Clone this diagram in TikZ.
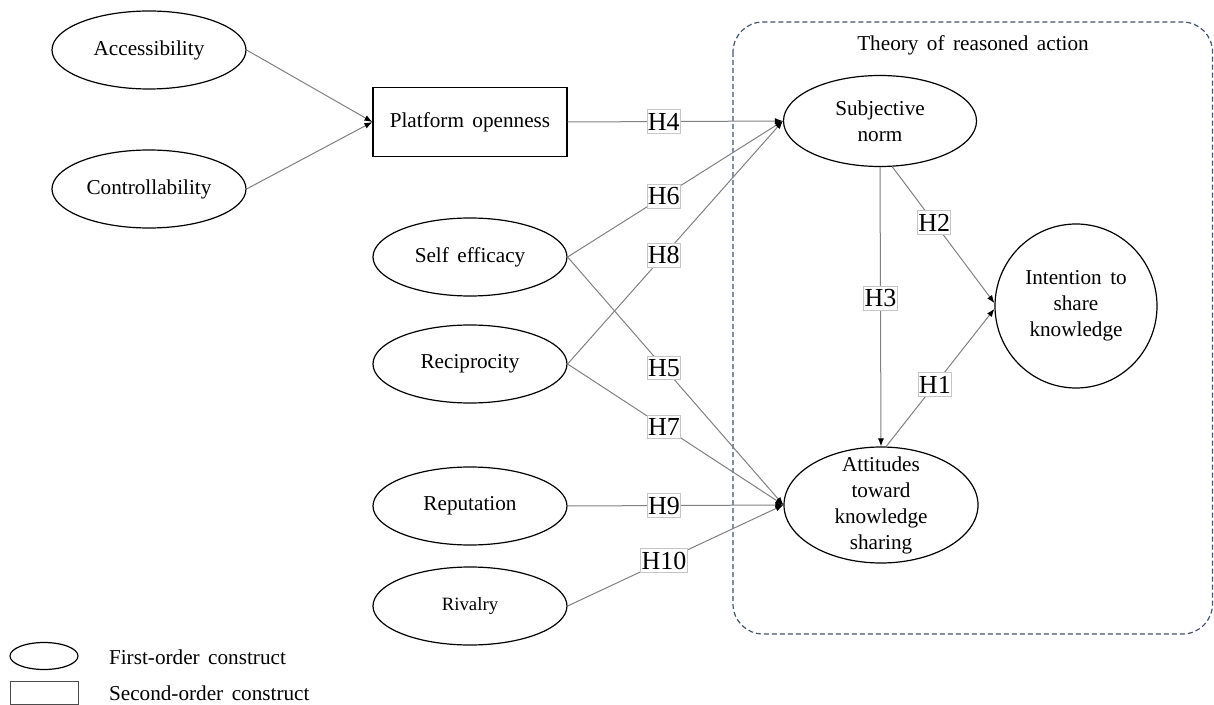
\documentclass[tikz,border=0pt]{standalone}
\usepackage{fontspec}
\setmainfont{Liberation Serif}[WordSpace=1.6]
\usepackage{xcolor}
\usetikzlibrary{arrows.meta,shapes.geometric,positioning}

\definecolor{traframe}{RGB}{68,84,106}

\begin{document}
\begin{tikzpicture}[x=0.5pt,y=-0.5pt,
	construct/.style={ellipse,draw,line width=0.6pt,fill=white,inner sep=0pt,
		minimum width=97pt,minimum height=39pt,align=center,
		font=\fontsize{10.6}{13}\selectfont},
	second/.style={rectangle,draw,line width=0.6pt,fill=white,
		minimum width=97pt,minimum height=34.5pt,font=\fontsize{10.6}{13}\selectfont},
	link/.style={draw=gray,line width=0.5pt,-{Latex[length=4pt,width=3pt,color=black]}},
	hyp/.style={pos=.447,draw=gray!45,line width=0.4pt,fill=white,inner xsep=0.4pt,inner ysep=1.6pt,
		text=black,font=\fontsize{13}{13}\selectfont}]
		\useasboundingbox (0,0) rectangle (1214,705);
		
		% theory of reasoned action frame
		\draw[traframe,line width=0.6pt,dash pattern=on 2.5pt off 1.5pt,rounded corners=15pt]
			(733,22) rectangle (1212.5,634);
		\node[font=\fontsize{10.6}{13}\selectfont] (tratitle) at (973,45) {Theory of reasoned action};
		
		% first and second order constructs
		\node[construct] (acc) at (149,50) {Accessibility};
		\node[construct] (ctrl) at (149,189) {Controllability};
		\node[second] (plat) at (470,122) {Platform openness};
		\node[construct] (self) at (470,257) {Self efficacy};
		\node[construct] (recip) at (470,364) {Reciprocity};
		\node[construct] (rep) at (470,506) {Reputation};
		\node[construct,font=\fontsize{9.4}{11}\selectfont] (riv) at (470,606) {Rivalry};
		
		\node[construct,minimum width=96.5pt,minimum height=45.5pt] (subj) at (880,121) {Subjective\\norm};
		\node[construct,minimum width=97pt,minimum height=58pt,inner ysep=-6pt] (att) at (881,505) {Attitudes\\toward\\knowledge\\sharing};
		\node[construct,minimum width=81pt,minimum height=82pt] (intent) at (1076,306) {Intention to\\share\\knowledge};
		
		% paths
		\draw[link] (acc.east) -- (plat.west);
		\draw[link] (ctrl.east) -- (plat.west);
		\draw[link] (plat.east) -- node[hyp] {H4} (subj.west);
		\draw[link] (self.east) -- node[hyp] {H6} (subj.west);
		\draw[link] (recip.east) -- node[hyp] {H8} (subj.west);
		\draw[link] (self.east) -- node[hyp] {H5} (att.west);
		\draw[link] (recip.east) -- node[hyp] {H7} (att.west);
		\draw[link] (rep.east) -- node[hyp] {H9} (att.west);
		\draw[link] (riv.east) -- node[hyp] {H10} (att.west);
		\draw[link] (subj.south) -- node[hyp,pos=.47] {H3} (att.north);
		\draw[link] (subj.-75) -- node[hyp,pos=.41] {H2} (intent.178);
		\draw[link] (att.85) -- node[hyp,pos=.45] {H1} (intent.182);
		
		% legend
		\node[construct,minimum width=34pt,minimum height=13.5pt] (key1) at (44,656) {};
		\node[second,draw=black!70,line width=0.5pt,minimum width=34pt,minimum height=11.5pt] (key2) at (44,692.5) {};
		\node[anchor=west,font=\fontsize{10.6}{13}\selectfont] (keytxt1) at (102,657) {First-order construct};
		\node[anchor=west,font=\fontsize{10.6}{13}\selectfont] (keytxt2) at (102,693) {Second-order construct};
\end{tikzpicture}
\end{document}
